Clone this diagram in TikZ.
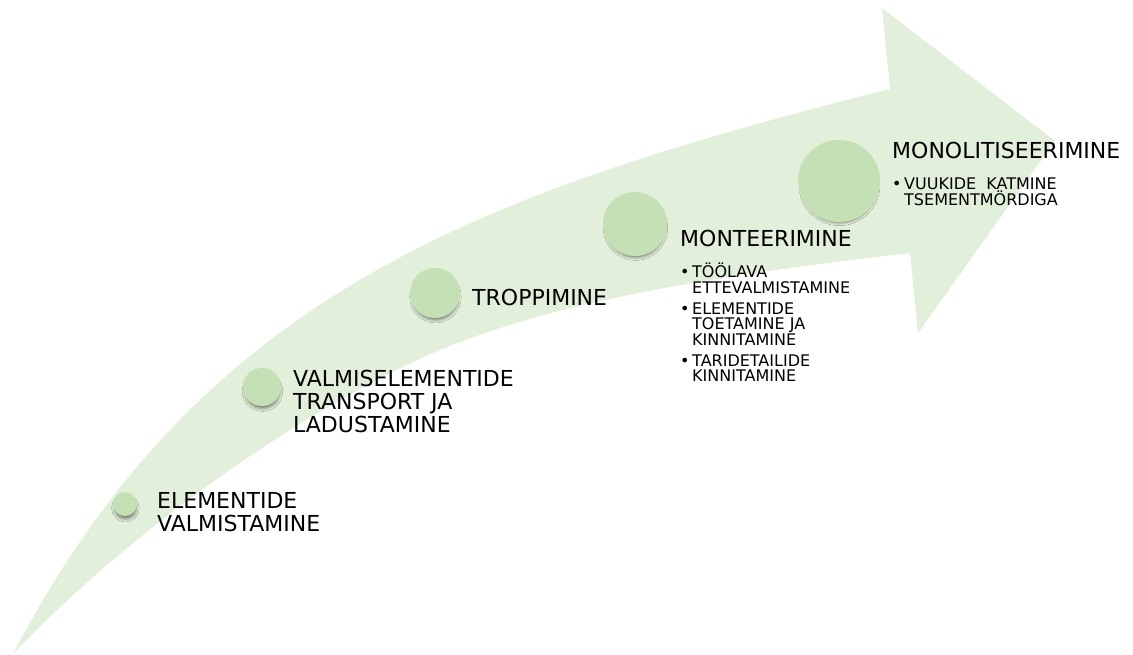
\documentclass[tikz,border=0pt]{standalone}
\usepackage{fontspec}
\setmainfont{DejaVu Sans}
\usepackage{xcolor}
\usetikzlibrary{shadows.blur,positioning}

\definecolor{bandgreen}{HTML}{E2EFDA}
\definecolor{dotgreen}{HTML}{C5E0B4}
\newcommand{\bul}{\makebox[12pt][l]{\textbullet}}
\newcommand{\ind}{\hspace*{12pt}}

\begin{document}
\begin{tikzpicture}[
    x=1pt, y=-1pt,
    band/.style={fill=bandgreen},
    dot/.style={circle, fill=dotgreen, inner sep=0pt,
        blur shadow={shadow xshift=0.5pt, shadow yshift=-4.5pt, shadow scale=0.92,
                     shadow blur radius=3pt, shadow opacity=45}},
    lab/.style={anchor=north west, inner sep=0pt, align=left, font=\fontsize{22}{23}\selectfont},
    list/.style={anchor=north west, inner sep=0pt, align=left, font=\fontsize{16}{15.5}\selectfont}
]
\useasboundingbox (0,0) rectangle (1133,655);

% curved arrow in the background
\fill[band] (13,654) .. controls (202,292) and (482,192) .. (890,89)
    -- (882,8) -- (1055,141) -- (918,333) -- (910,253)
    .. controls (720,275) and (560,300) .. (440,350)
    .. controls (330,396) and (150,510) .. (13,654) -- cycle;

% steps
\node[dot, minimum size=24pt] (c1) at (125,504) {};
\node[dot, minimum size=38pt] (c2) at (262,387) {};
\node[dot, minimum size=50pt] (c3) at (435,293) {};
\node[dot, minimum size=64pt] (c4) at (635,224) {};
\node[dot, minimum size=82pt] (c5) at (839,181) {};

\node[lab] (elem) at (157,492) {ELEMENTIDE\\VALMISTAMINE};
\node[lab] (transp) at (293,370) {VALMISELEMENTIDE\\TRANSPORT JA\\LADUSTAMINE};
\node[lab] (tropp) at (472,289) {TROPPIMINE};
\node[lab] (mont) at (680,230) {MONTEERIMINE};
\node[lab] (monol) at (892,142) {MONOLITISEERIMINE};

\node[list, below=16pt of mont.south west, anchor=north west] (montlist)
    {\bul TÖÖLAVA\\\ind ETTEVALMISTAMINE\\[5.5pt]
     \bul ELEMENTIDE\\\ind TOETAMINE JA\\\ind KINNITAMINE\\[5.5pt]
     \bul TARIDETAILIDE\\\ind KINNITAMINE};
\node[list, below=19pt of monol.south west, anchor=north west] (monollist)
    {\bul VUUKIDE~~KATMINE\\\ind TSEMENTMÖRDIGA};
\end{tikzpicture}
\end{document}
